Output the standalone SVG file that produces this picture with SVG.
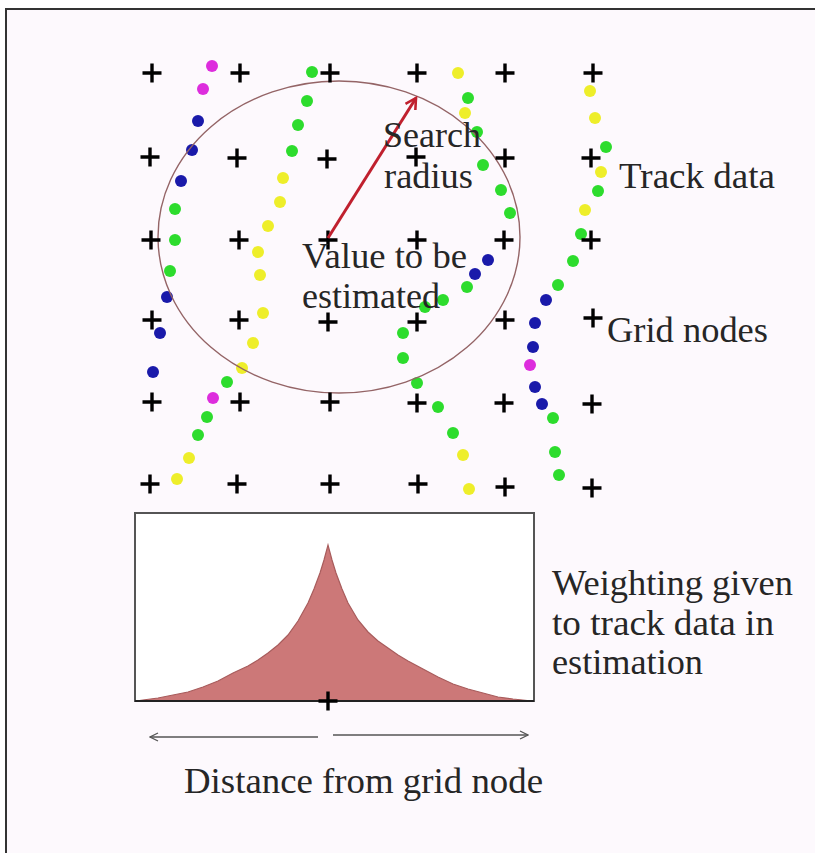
<svg xmlns="http://www.w3.org/2000/svg" xmlns:xlink="http://www.w3.org/1999/xlink" width="815" height="853" viewBox="0 0 815 853">
<style>
.t{font-family:"Liberation Serif","Times New Roman",serif;font-size:36px;fill:#262626}
.g{fill:#2ddc2d}.y{fill:#eeee2a}.b{fill:#1a1aaa}.m{fill:#dd2ddd}
.plus{stroke:#000;stroke-width:3.4;fill:none}
</style>
<defs>
<path id="p" class="plus" d="M-9.5 0H9.5M0 -9.5V9.5"/>
<marker id="ah" viewBox="0 0 10 10" refX="9" refY="5" markerWidth="10" markerHeight="10" markerUnits="userSpaceOnUse" orient="auto"><path d="M1 1L9 5L1 9" fill="none" stroke="#555" stroke-width="1.3"/></marker>
<marker id="rh" viewBox="0 0 12 12" refX="10" refY="6" markerWidth="14" markerHeight="14" markerUnits="userSpaceOnUse" orient="auto"><path d="M1 1L10 6L1 11" fill="none" stroke="#c0202e" stroke-width="2.2"/></marker>
</defs>
<rect x="0" y="0" width="815" height="853" fill="#fff"/>
<rect x="6" y="9" width="830" height="870" fill="#fdf9fd" stroke="#333" stroke-width="2"/>

<g id="tracks">
<circle class="m" cx="212" cy="66" r="6"/><circle class="m" cx="203" cy="89" r="6"/>
<circle class="b" cx="198" cy="121" r="6"/><circle class="b" cx="192" cy="150" r="6"/><circle class="b" cx="181" cy="181" r="6"/>
<circle class="g" cx="175" cy="209" r="6"/><circle class="g" cx="175" cy="240" r="6"/><circle class="g" cx="170" cy="271" r="6"/>
<circle class="b" cx="167" cy="297" r="6"/><circle class="b" cx="160" cy="333" r="6"/><circle class="b" cx="153" cy="372" r="6"/>

<circle class="g" cx="312" cy="72" r="6"/><circle class="g" cx="307" cy="101" r="6"/><circle class="g" cx="298" cy="125" r="6"/><circle class="g" cx="292" cy="151" r="6"/>
<circle class="y" cx="283" cy="178" r="6"/><circle class="y" cx="280" cy="202" r="6"/><circle class="y" cx="268" cy="226" r="6"/><circle class="y" cx="258" cy="252" r="6"/><circle class="y" cx="260" cy="275" r="6"/>
<circle class="y" cx="263" cy="313" r="6"/><circle class="y" cx="253" cy="343" r="6"/><circle class="y" cx="242" cy="368" r="6"/>
<circle class="g" cx="227" cy="382" r="6"/><circle class="m" cx="213" cy="398" r="6"/><circle class="g" cx="207" cy="417" r="6"/><circle class="g" cx="198" cy="435" r="6"/>
<circle class="y" cx="189" cy="458" r="6"/><circle class="y" cx="177" cy="479" r="6"/>

<circle class="y" cx="458" cy="73" r="6"/><circle class="g" cx="468" cy="98" r="6"/><circle class="y" cx="465" cy="113" r="6"/><circle class="g" cx="477" cy="132" r="6"/>
<circle class="g" cx="483" cy="165" r="6"/><circle class="g" cx="501" cy="190" r="6"/><circle class="g" cx="510" cy="213" r="6"/>
<circle class="b" cx="488" cy="260" r="6"/><circle class="b" cx="475" cy="274" r="6"/>
<circle class="g" cx="467" cy="287" r="6"/><circle class="g" cx="443" cy="300" r="6"/><circle class="g" cx="425" cy="307" r="6"/>
<circle class="g" cx="403" cy="333" r="6"/><circle class="g" cx="403" cy="358" r="6"/><circle class="g" cx="417" cy="383" r="6"/><circle class="g" cx="438" cy="407" r="6"/>
<circle class="g" cx="453" cy="433" r="6"/><circle class="y" cx="463" cy="455" r="6"/><circle class="y" cx="469" cy="489" r="6"/>

<circle class="y" cx="590" cy="91" r="6"/><circle class="y" cx="595" cy="118" r="6"/><circle class="g" cx="606" cy="147" r="6"/><circle class="y" cx="601" cy="172" r="6"/>
<circle class="g" cx="598" cy="191" r="6"/><circle class="y" cx="585" cy="210" r="6"/><circle class="g" cx="581" cy="234" r="6"/><circle class="g" cx="573" cy="261" r="6"/>
<circle class="g" cx="558" cy="285" r="6"/><circle class="b" cx="546" cy="300" r="6"/><circle class="b" cx="535" cy="323" r="6"/><circle class="b" cx="533" cy="347" r="6"/>
<circle class="m" cx="530" cy="365" r="6"/><circle class="b" cx="535" cy="387" r="6"/><circle class="b" cx="542" cy="404" r="6"/>
<circle class="g" cx="553" cy="418" r="6"/><circle class="g" cx="555" cy="452" r="6"/><circle class="g" cx="559" cy="475" r="6"/>
</g>

<g id="search-circle">
<ellipse cx="339" cy="237" rx="181" ry="156" fill="none" stroke="#946466" stroke-width="1.4"/>
</g>

<g id="grid-nodes">
<use href="#p" x="152" y="73"/><use href="#p" x="240" y="73"/><use href="#p" x="330" y="73"/><use href="#p" x="417" y="73"/><use href="#p" x="505" y="73"/><use href="#p" x="593" y="73"/>
<use href="#p" x="150" y="157"/><use href="#p" x="237" y="158"/><use href="#p" x="327" y="159"/><use href="#p" x="416" y="157"/><use href="#p" x="505" y="158"/><use href="#p" x="591" y="158"/>
<use href="#p" x="151" y="240"/><use href="#p" x="239" y="240"/><use href="#p" x="328" y="240"/><use href="#p" x="417" y="240"/><use href="#p" x="504" y="240"/><use href="#p" x="591" y="240"/>
<use href="#p" x="152" y="320"/><use href="#p" x="239" y="320"/><use href="#p" x="328" y="322"/><use href="#p" x="417" y="322"/><use href="#p" x="505" y="320"/><use href="#p" x="593" y="318"/>
<use href="#p" x="152" y="402"/><use href="#p" x="240" y="402"/><use href="#p" x="330" y="402"/><use href="#p" x="417" y="403"/><use href="#p" x="504" y="403"/><use href="#p" x="592" y="404"/>
<use href="#p" x="150" y="484"/><use href="#p" x="237" y="484"/><use href="#p" x="330" y="484"/><use href="#p" x="418" y="484"/><use href="#p" x="505" y="487"/><use href="#p" x="592" y="488"/>
</g>

<g id="connectors">
<line x1="328" y1="238" x2="416" y2="98" stroke="#c0202e" stroke-width="3" marker-end="url(#rh)"/>
<line x1="318" y1="737" x2="150" y2="737" stroke="#555" stroke-width="1.6" marker-end="url(#ah)"/>
<line x1="333" y1="735" x2="528" y2="735" stroke="#555" stroke-width="1.6" marker-end="url(#ah)"/>
</g>

<g id="labels">
<text class="t" x="383" y="147" textLength="98" lengthAdjust="spacingAndGlyphs">Search</text>
<text class="t" x="384" y="188" textLength="89" lengthAdjust="spacingAndGlyphs">radius</text>
<text class="t" x="302" y="268" textLength="165" lengthAdjust="spacingAndGlyphs">Value to be</text>
<text class="t" x="302" y="308" textLength="138" lengthAdjust="spacingAndGlyphs">estimated</text>
<text class="t" x="619" y="188" textLength="156" lengthAdjust="spacingAndGlyphs">Track data</text>
<text class="t" x="607" y="342" textLength="161" lengthAdjust="spacingAndGlyphs">Grid nodes</text>
<text class="t" x="552" y="595" textLength="241" lengthAdjust="spacingAndGlyphs">Weighting given</text>
<text class="t" x="552" y="635" textLength="222" lengthAdjust="spacingAndGlyphs">to track data in</text>
<text class="t" x="552" y="674" textLength="151" lengthAdjust="spacingAndGlyphs">estimation</text>
<text class="t" x="184" y="793" textLength="359" lengthAdjust="spacingAndGlyphs">Distance from grid node</text>
</g>

<g id="weighting-chart">
<rect x="135" y="513" width="399" height="188" fill="#fff" stroke="#555" stroke-width="2"/>
<path d="M136 701L143 700L158 698L173 695L188 692L203 687L218 681L233 673L248 666L258 660L268 653L278 645L288 635L298 621L308 603L314 589L320 573L324 560L328 545L332 560L336 573L342 589L348 603L358 620L368 632L378 641L388 648L398 655L408 661L423 669L438 677L453 684L468 689L483 693L498 697L513 699L532 701Z" fill="#cc7878" stroke="#a85c5c" stroke-width="1.2"/>
<line x1="135" y1="701" x2="534" y2="701" stroke="#222" stroke-width="2"/>
<use href="#p" x="328" y="701"/>
</g>
</svg>
